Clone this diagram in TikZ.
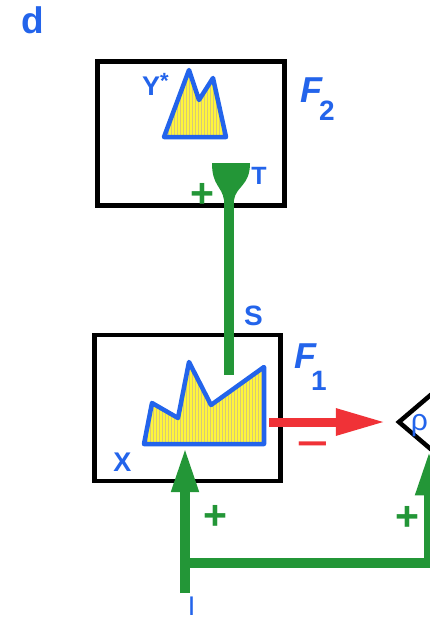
\documentclass[tikz,border=0pt]{standalone}
\usepackage{fontspec}
\setmainfont{Liberation Sans}
\usetikzlibrary{arrows.meta,shapes.geometric,patterns,calc}
\definecolor{dblue}{RGB}{35,100,235}
\definecolor{dgreen}{RGB}{35,150,55}
\definecolor{dred}{RGB}{240,50,55}
\definecolor{dyellow}{RGB}{255,245,60}
\definecolor{stripe}{RGB}{215,200,120}
\newcommand{\fsz}[1]{\fontsize{#1}{#1}\selectfont}
\begin{document}
\begin{tikzpicture}[x=1pt,y=-1pt,
  frame/.style={draw=black, line width=4.5pt, inner sep=0pt, rectangle},
  mount/.style={preaction={fill=dyellow}, pattern=vertical lines, pattern color=stripe,
    draw=dblue, line width=4.5pt, line join=round},
  lbl/.style={text=dblue, inner sep=0pt},
  gline/.style={draw=dgreen, line width=10pt},
  garrow/.style={gline, -{Triangle[length=45pt,width=25pt]}},
  rarrow/.style={draw=dred, line width=9pt, -{Triangle[length=50pt,width=25pt]}},
  sign/.style={inner sep=0pt, font=\fsz{41}\bfseries, text=dgreen}
]
\useasboundingbox (0,0) rectangle (430,621);
\clip (0,0) rectangle (430,621);
\fill[white] (0,0) rectangle (430,621);

% boxes
\node[frame, minimum width=187pt, minimum height=144pt] (f2) at (191,133.5) {};
\node[frame, minimum width=186pt, minimum height=146pt] (f1) at (187.5,408) {};
\node[diamond, draw=black, line width=4.5pt, minimum width=150pt, minimum height=128pt, inner sep=0pt] (rho) at (473,422) {};

% mountains
\path[mount] (164,137) -- (189,70) -- (199,100) -- (213,78) -- (226,137) -- cycle;
\path[mount] (144,444) -- (152,403) -- (178,418) -- (189,362) -- (211,405) -- (264,367) -- (264,444) -- cycle;

% labels
\node[lbl, font=\fsz{37}\bfseries] (d) at (32.5,20.5) {d};
\node[lbl, font=\fsz{27}\bfseries, anchor=base west] (ystar) at (142,95) {Y\raisebox{7pt}{\fsz{22}*}};
\node[lbl, anchor=base west] (F2) at (300,102) {\fsz{36}\bfseries\itshape F\hspace{-3pt}\raisebox{-18pt}{\fsz{28}\upshape 2}};
\node[lbl, anchor=base west] (F1) at (294,368) {\fsz{36}\bfseries\itshape F\hspace{-5pt}\raisebox{-22pt}{\fsz{28}\upshape 1}};
\node[lbl, font=\fsz{25}\bfseries] (T) at (259,176) {T};
\node[lbl, font=\fsz{28}\bfseries] (S) at (253.5,316) {S};
\node[lbl, font=\fsz{27}\bfseries] (X) at (122.5,462) {X};
\node[lbl, font=\fsz{30}] (rholbl) at (419.5,426) {ρ};
\node[lbl, font=\fsz{27}] (I) at (191.5,606) {I};

% T receptor cup and S stem
\fill[dgreen] (212,163) -- (250,163) .. controls (250,186) and (236,186) .. (234,200) -- (224,200) .. controls (222,186) and (212,186) .. (212,163) -- cycle;
\coordinate (cup) at (229,195);
\coordinate (s1) at (229,375);
\draw[gline] (cup) -- (s1);

% red inhibitory arrow
\coordinate (rs) at (269,422);
\draw[rarrow] (rs) -- ([xshift=-10pt]rho.west);
\node[inner sep=0pt, font=\fsz{56}, text=dred] (minus) at (313,452) {−};

% input I
\coordinate (Ibot) at (185,593);
\coordinate (m1b) at (185,447);
\coordinate (split) at (185,562.5);
\draw[garrow] (Ibot) -- (m1b);
\draw[garrow] (split) -| ($(rho.west)!0.43!(rho.south)$);

% plus signs
\node[sign] (p1) at (202,195) {+};
\node[sign] (p2) at (215.5,517) {+};
\node[sign] (p3) at (407,518) {+};
\end{tikzpicture}
\end{document}
